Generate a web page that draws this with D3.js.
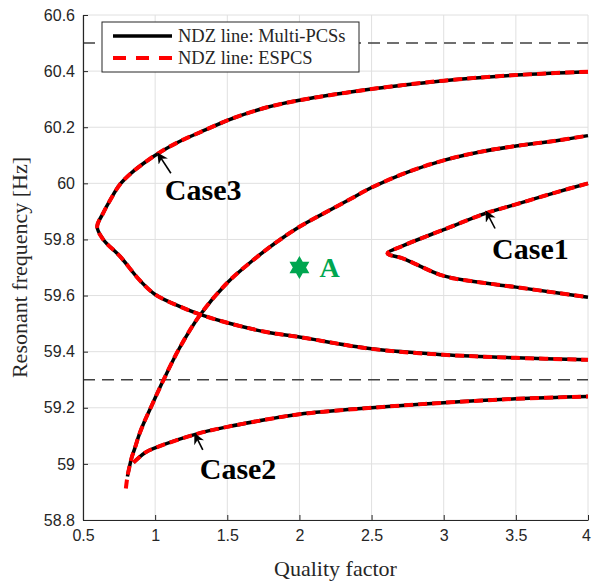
<!DOCTYPE html>
<html>
<head>
<meta charset="utf-8">
<script src="https://cdn.jsdelivr.net/npm/d3@7"></script>
<style>
  body { margin: 0; background: #fff; }
  svg { display: block; }
</style>
</head>
<body>
<svg width="592" height="585"></svg>
<script>
// Tick values
const xTicks = [0.5, 1, 1.5, 2, 2.5, 3, 3.5, 4];
const yTicks = [58.8, 59, 59.2, 59.4, 59.6, 59.8, 60, 60.2, 60.4, 60.6];

// NDZ limits (dashed lines)
const freqLimits = [60.5, 59.3];

// Case3: upper branch from Q=4 to the tip, then lower branch back to Q=4
const case3 = [
  [4.0, 60.398], [3.5, 60.386], [3.0, 60.366], [2.5, 60.336], [2.0, 60.296],
  [1.776, 60.271], [1.54, 60.232], [1.311, 60.182], [1.172, 60.15], [1.034, 60.111],
  [0.93, 60.075], [0.84, 60.039], [0.756, 59.996], [0.687, 59.939], [0.639, 59.893],
  [0.598, 59.845],
  [0.64, 59.80], [0.756, 59.74], [0.894, 59.654], [1.0, 59.604], [1.19, 59.557],
  [1.31, 59.533], [1.5, 59.503], [1.77, 59.47], [2.0, 59.452], [2.5, 59.41],
  [3.0, 59.389], [3.5, 59.378], [4.0, 59.371]
];

// Case2: rising branch and lower branch
const case2Upper = [
  [0.808, 58.955], [0.822, 58.99], [0.837, 59.022], [0.86, 59.057], [0.89, 59.105],
  [0.925, 59.15], [0.978, 59.21], [1.055, 59.296], [1.17, 59.414], [1.31, 59.53],
  [1.495, 59.643], [1.676, 59.725], [1.84, 59.79], [2.0, 59.845], [2.14, 59.885],
  [2.35, 59.943], [2.5, 59.985], [2.75, 60.04], [3.0, 60.082], [3.25, 60.112],
  [3.5, 60.133], [3.78, 60.152], [4.0, 60.17]
];
const case2Lower = [
  [0.85, 59.005], [0.93, 59.04], [1.0, 59.057], [1.29, 59.107], [1.5, 59.132],
  [1.77, 59.158], [2.0, 59.177], [2.5, 59.2], [3.0, 59.218], [3.5, 59.232], [4.0, 59.24]
];
// ESPCS line runs a little further down at the tail of Case2
const espcsCase2Tail = [[0.797, 58.912]];

// Case1: upper branch from Q=4 to the tip, then lower branch
const case1 = [
  [4.0, 60.0], [3.78, 59.968], [3.5, 59.925], [3.29, 59.893], [3.0, 59.835],
  [2.72, 59.778], [2.61, 59.75],
  [2.72, 59.732], [3.0, 59.67], [3.31, 59.643], [3.5, 59.63], [3.78, 59.61], [4.0, 59.594]
];

// Operating point A
const pointA = [2.0, 59.7];

// Case annotations: label, text anchor, arrow tip, arrow tail
const caseNames = ["Case3", "Case1", "Case2"];
const caseTextAt = [[1.067, 59.939], [3.335, 59.732], [1.309, 58.946]];
const caseArrowTip = [[1.019, 60.107], [3.294, 59.9], [1.275, 59.107]];
const caseArrowTail = [[1.109, 60.036], [3.356, 59.839], [1.33, 59.05]];

const legendNames = ["NDZ line: Multi-PCSs", "NDZ line: ESPCS"];

const svg = d3.select("svg");
const margin = {left: 83, right: 4, top: 15, bottom: 65};
const width = 592, height = 585;

const x = d3.scaleLinear().domain([0.5, 4]).range([margin.left, width - margin.right]);
const y = d3.scaleLinear().domain([58.8, 60.6]).range([height - margin.bottom, margin.top]);

const axisColor = "#262626";
const gridColor = "#e0e0e0";

// grid
const grid = svg.append("g");
grid.selectAll(".gx").data(xTicks).enter().append("line")
    .attr("x1", d => x(d)).attr("x2", d => x(d))
    .attr("y1", y(58.8)).attr("y2", y(60.6))
    .attr("stroke", gridColor).attr("stroke-width", 1);
grid.selectAll(".gy").data(yTicks).enter().append("line")
    .attr("x1", x(0.5)).attr("x2", x(4))
    .attr("y1", d => y(d)).attr("y2", d => y(d))
    .attr("stroke", gridColor).attr("stroke-width", 1);

// dashed limit lines
svg.append("g").selectAll("line").data(freqLimits).enter().append("line")
    .attr("x1", x(0.5)).attr("x2", x(4))
    .attr("y1", d => y(d)).attr("y2", d => y(d))
    .attr("stroke", "#404040").attr("stroke-width", 1.5)
    .attr("stroke-dasharray", "12,7");

const line = d3.line()
    .x(d => x(d[0]))
    .y(d => y(d[1]))
    .curve(d3.curveCatmullRom.alpha(0.5));

const blackCurves = [case3, case2Upper, case2Lower, case1];
const redCurves = [case3, espcsCase2Tail.concat(case2Upper), case2Lower, case1];

svg.append("g").selectAll("path").data(blackCurves).enter().append("path")
    .attr("d", line)
    .attr("fill", "none")
    .attr("stroke", "#000")
    .attr("stroke-width", 3.5);

svg.append("g").selectAll("path").data(redCurves).enter().append("path")
    .attr("d", line)
    .attr("fill", "none")
    .attr("stroke", "#ff0000")
    .attr("stroke-width", 4)
    .attr("stroke-dasharray", "9,5");

// axes
const xAxis = d3.axisBottom(x).tickValues(xTicks)
    .tickFormat(d => String(d)).tickSizeInner(-5).tickSizeOuter(0).tickPadding(10);
const yAxis = d3.axisLeft(y).tickValues(yTicks)
    .tickFormat(d => String(+d.toFixed(1))).tickSizeInner(-5).tickSizeOuter(0).tickPadding(8);

const gx = svg.append("g").attr("transform", `translate(0,${y(58.8)})`).call(xAxis);
const gy = svg.append("g").attr("transform", `translate(${x(0.5)},0)`).call(yAxis);
[gx, gy].forEach(g => {
  g.select(".domain").attr("stroke", axisColor).attr("stroke-width", 1.2);
  g.selectAll(".tick line").attr("stroke", axisColor);
  g.selectAll(".tick text")
    .attr("fill", axisColor)
    .style("font-family", "'Liberation Sans', Arial, sans-serif")
    .style("font-size", "16px");
});
// keep the last x label inside the picture
gx.selectAll(".tick text").filter(d => d === 4).attr("dx", "-2px");

// axis titles
svg.append("text")
    .attr("x", (x(0.5) + x(4)) / 2)
    .attr("y", 576)
    .attr("text-anchor", "middle")
    .attr("fill", axisColor)
    .style("font-family", "'Liberation Serif', 'Times New Roman', serif")
    .style("font-size", "22px")
    .text("Quality factor");

svg.append("text")
    .attr("transform", `translate(27,${(y(58.8) + y(60.6)) / 2}) rotate(-90)`)
    .attr("text-anchor", "middle")
    .attr("fill", axisColor)
    .style("font-family", "'Liberation Serif', 'Times New Roman', serif")
    .style("font-size", "22px")
    .text("Resonant frequency [Hz]");

// arrows
svg.append("defs").append("marker")
    .attr("id", "arrowhead")
    .attr("viewBox", "0 0 10 10")
    .attr("refX", 9).attr("refY", 5)
    .attr("markerWidth", 11).attr("markerHeight", 11)
    .attr("markerUnits", "userSpaceOnUse")
    .attr("orient", "auto")
    .append("path")
    .attr("d", "M0,0 L10,5 L0,10 L3,5 Z")
    .attr("fill", "#000");

svg.append("g").selectAll("line").data(caseArrowTip).enter().append("line")
    .attr("x1", (d, i) => x(caseArrowTail[i][0]))
    .attr("y1", (d, i) => y(caseArrowTail[i][1]))
    .attr("x2", d => x(d[0]))
    .attr("y2", d => y(d[1]))
    .attr("stroke", "#000")
    .attr("stroke-width", 1.6)
    .attr("marker-end", "url(#arrowhead)");

svg.append("g").selectAll("text").data(caseNames).enter().append("text")
    .attr("x", (d, i) => x(caseTextAt[i][0]))
    .attr("y", (d, i) => y(caseTextAt[i][1]))
    .attr("fill", "#000")
    .style("font-family", "'Liberation Serif', 'Times New Roman', serif")
    .style("font-size", "30px")
    .style("font-weight", "bold")
    .text(d => d);

// hexagram marker for point A
function hexagram(r) {
  const pts = [];
  for (let k = 0; k < 12; k++) {
    const a = -Math.PI / 2 + k * Math.PI / 6;
    const rr = k % 2 === 0 ? r : r / Math.sqrt(3);
    pts.push([rr * Math.cos(a), rr * Math.sin(a)]);
  }
  return "M" + pts.map(p => p.join(",")).join("L") + "Z";
}
const green = "#00a650";
svg.append("path")
    .attr("d", hexagram(11.5))
    .attr("transform", `translate(${x(pointA[0])},${y(pointA[1])})`)
    .attr("fill", green);

svg.append("text")
    .attr("x", x(pointA[0]) + 20)
    .attr("y", y(pointA[1]) + 9)
    .attr("fill", green)
    .style("font-family", "'Liberation Serif', 'Times New Roman', serif")
    .style("font-size", "28px")
    .style("font-weight", "bold")
    .text("A");

// legend
const legend = svg.append("g").attr("transform", "translate(102,22)");
legend.append("rect")
    .attr("width", 257).attr("height", 50)
    .attr("fill", "#fff").attr("stroke", axisColor).attr("stroke-width", 1);
legendNames.forEach((name, i) => {
  const ly = 14 + i * 22;
  legend.append("line")
      .attr("x1", 11).attr("x2", 70).attr("y1", ly).attr("y2", ly)
      .attr("stroke", i === 0 ? "#000" : "#ff0000")
      .attr("stroke-width", i === 0 ? 3.5 : 4)
      .attr("stroke-dasharray", i === 0 ? null : "13,10");
  legend.append("text")
      .attr("x", 76).attr("y", ly + 6)
      .attr("fill", axisColor)
      .style("font-family", "'Liberation Serif', 'Times New Roman', serif")
      .style("font-size", "18.5px")
      .text(name);
});
</script>
</body>
</html>
